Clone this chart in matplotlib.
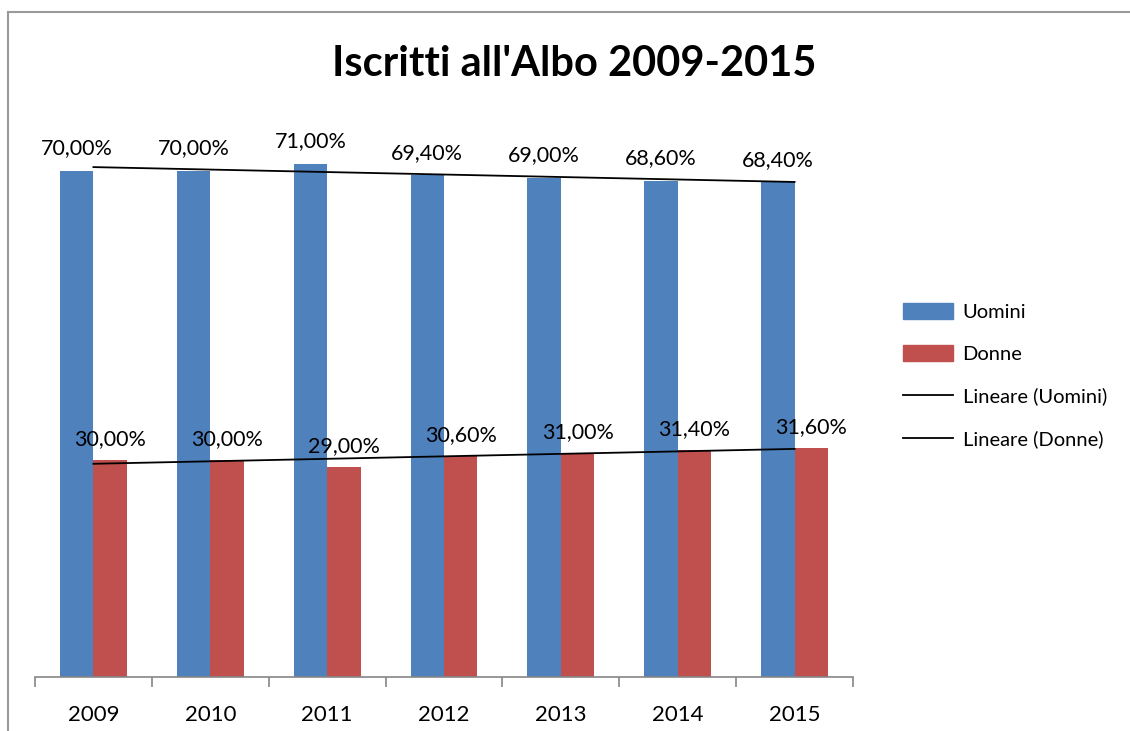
import matplotlib.pyplot as plt
import numpy as np
from matplotlib.lines import Line2D
from matplotlib.patches import Patch

anni = ['2009', '2010', '2011', '2012', '2013', '2014', '2015']
uomini = [0.700, 0.700, 0.710, 0.694, 0.690, 0.686, 0.684]
donne = [0.300, 0.300, 0.290, 0.306, 0.310, 0.314, 0.316]

blu = '#4F81BD'
rosso = '#C0504D'
grigio = '#868686'

plt.rcParams['font.family'] = ['Lato', 'DejaVu Sans']

fig = plt.figure(figsize=(11.3, 7.31), dpi=100)
ax = fig.add_axes([35 / 1130, 1 - 677 / 731, 818 / 1130, 578.5 / 731])

x = np.arange(len(anni))
w = 1 / 3.5
ax.bar(x - w / 2, uomini, w, color=blu, label='Uomini')
ax.bar(x + w / 2, donne, w, color=rosso, label='Donne')

# linee di tendenza (regressione lineare)
for serie in (uomini, donne):
    k, q = np.polyfit(x, serie, 1)
    ax.plot(x, k * x + q, color='black', lw=1.3)

for i in x:
    ax.annotate(f"{uomini[i] * 100:.2f}%".replace('.', ','), (i - w / 2, uomini[i]),
                xytext=(0, 9), textcoords='offset points', ha='center', va='bottom', fontsize=15.5)
    ax.annotate(f"{donne[i] * 100:.2f}%".replace('.', ','), (i + w / 2, donne[i]),
                xytext=(0, 8), textcoords='offset points', ha='center', va='bottom', fontsize=15.5)

ax.set_xlim(-0.5, len(anni) - 0.5)
ax.set_ylim(0, 0.8)
ax.set_xticks(x)
ax.set_xticklabels(anni, fontsize=16)
ax.set_xticks(np.arange(len(anni) + 1) - 0.5, minor=True)
ax.tick_params(axis='x', which='major', length=0, pad=20)
ax.tick_params(axis='x', which='minor', length=7, color=grigio, width=1.2)
ax.set_yticks([])
for s in ('top', 'right', 'left'):
    ax.spines[s].set_visible(False)
ax.spines['bottom'].set_color(grigio)
ax.spines['bottom'].set_linewidth(1.2)

fig.text(574 / 1130, 1 - 64 / 731, "Iscritti all'Albo 2009-2015", ha='center', va='center',
         fontsize=30, fontweight='bold')

handles = [Patch(color=blu), Patch(color=rosso),
           Line2D([], [], color='black', lw=1.3), Line2D([], [], color='black', lw=1.3)]
labels = ['Uomini', 'Donne', 'Lineare (Uomini)', 'Lineare (Donne)']
fig.legend(handles, labels, loc='upper left', bbox_to_anchor=(885 / 1130, 1 - 285 / 731),
           frameon=False, fontsize=14.5, handlelength=2.5, handleheight=0.8,
           labelspacing=1.22, handletextpad=0.45)

# bordo del grafico
fig.add_artist(Line2D([8 / 1130, 8 / 1130], [0, 1 - 12 / 731], color='#9a9a9a', lw=1.5))
fig.add_artist(Line2D([8 / 1130, 1], [1 - 12 / 731, 1 - 12 / 731], color='#9a9a9a', lw=1.5))

fig.savefig('out.png', dpi=100)
